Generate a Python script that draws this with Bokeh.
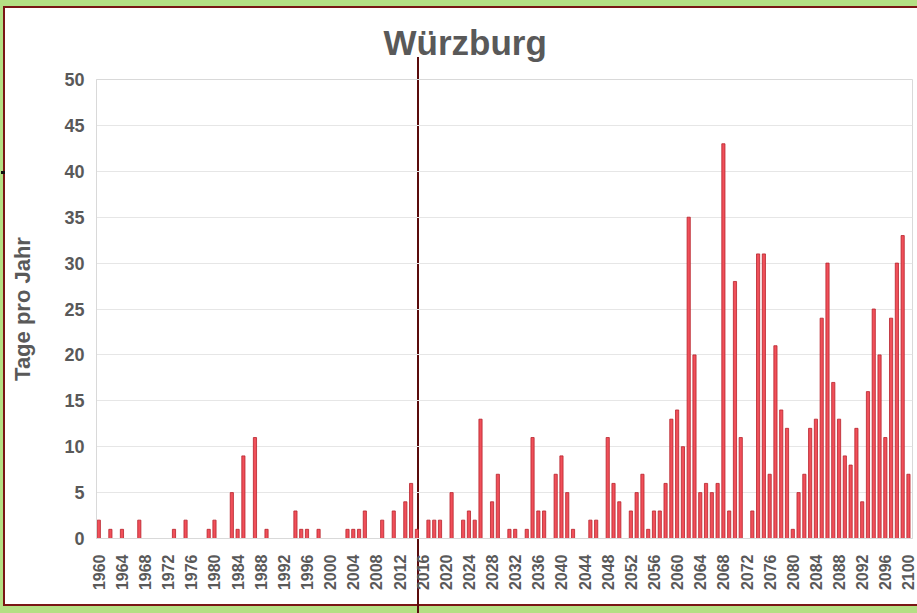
from bokeh.plotting import figure
from bokeh.models import FixedTicker, Range1d
from bokeh.embed import file_html
from bokeh.resources import INLINE
import math

# ---- data ----
years = [1960, 1962, 1964, 1967, 1973, 1975, 1979, 1980, 1983, 1984, 1985, 1987, 1989,
         1994, 1995, 1996, 1998, 2003, 2004, 2005, 2006, 2009, 2011, 2013, 2014, 2015,
         2017, 2018, 2019, 2021, 2023, 2024, 2025, 2026, 2028, 2029, 2031, 2032, 2034,
         2035, 2036, 2037, 2039, 2040, 2041, 2042, 2045, 2046, 2048, 2049, 2050, 2052,
         2053, 2054, 2055, 2056, 2057, 2058, 2059, 2060, 2061, 2062, 2063, 2064, 2065,
         2066, 2067, 2068, 2069, 2070, 2071, 2073, 2074, 2075, 2076, 2077, 2078, 2079,
         2080, 2081, 2082, 2083, 2084, 2085, 2086, 2087, 2088, 2089, 2090, 2091, 2092,
         2093, 2094, 2095, 2096, 2097, 2098, 2099, 2100]
days = [2, 1, 1, 2, 1, 2, 1, 2, 5, 1, 9, 11, 1,
        3, 1, 1, 1, 1, 1, 1, 3, 2, 3, 4, 6, 1,
        2, 2, 2, 5, 2, 3, 2, 13, 4, 7, 1, 1, 1,
        11, 3, 3, 7, 9, 5, 1, 2, 2, 11, 6, 4, 3,
        5, 7, 1, 3, 3, 6, 13, 14, 10, 35, 20, 5, 6,
        5, 6, 43, 3, 28, 11, 3, 31, 31, 7, 21, 14, 12,
        1, 5, 7, 12, 13, 24, 30, 17, 13, 9, 8, 12, 4,
        16, 25, 20, 11, 24, 30, 33, 7]
x_ticks = list(range(1960, 2101, 4))
y_ticks = list(range(0, 51, 5))
title_text = "Würzburg"
y_label = "Tage pro Jahr"

W, H = 917, 613
p = figure(width=W, height=H, output_backend="svg", toolbar_location=None,
           x_range=Range1d(1959.6, 2100.7), y_range=Range1d(0, 50),
           min_border_left=96, min_border_right=5, min_border_top=79, min_border_bottom=75)

# page decoration (green surround, maroon frame, vertical marker line) via CSS background
green = "#b4df84"
maroon = "#7a1515"
marker = "#5a0c0c"
p.styles = {
    "background": (
        f"linear-gradient({marker},{marker}) 417px 57px / 2px 556px no-repeat, "
        f"linear-gradient(#111111,#111111) 1px 171px / 4px 3px no-repeat, "
        f"linear-gradient(#ffffff,#ffffff) 5px 8px / 912px 596px no-repeat, "
        f"linear-gradient({maroon},{maroon}) 3px 6px / 914px 600px no-repeat, "
        f"{green}"
    )
}
p.border_fill_alpha = 0
p.background_fill_alpha = 0

p.title.text = title_text
p.title.text_font = "Liberation Sans"
p.title.text_font_size = "35px"
p.title.text_font_style = "bold"
p.title.text_color = "#595959"
p.title.align = "left"
p.title.offset = 287
p.title.standoff = 35

p.outline_line_color = "#d9d9d9"

p.vbar(x=years, top=days, width=0.55, bottom=0,
       fill_color="#f0505a", line_color="#b8222b", line_width=0.8)

p.xgrid.grid_line_color = None
p.ygrid.grid_line_color = "#e6e6e6"
p.ygrid.ticker = FixedTicker(ticks=y_ticks)

xa = p.xaxis[0]
xa.ticker = FixedTicker(ticks=x_ticks)
xa.major_label_orientation = math.pi / 2
xa.major_label_text_font = "Liberation Sans"
xa.major_label_text_font_size = "16px"
xa.major_label_text_font_style = "bold"
xa.major_label_text_color = "#595959"
xa.major_tick_line_color = None
xa.minor_tick_line_color = None
xa.axis_line_color = "#d9d9d9"
xa.major_label_standoff = 10

ya = p.yaxis[0]
ya.ticker = FixedTicker(ticks=y_ticks)
ya.major_label_text_font = "Liberation Sans"
ya.major_label_text_font_size = "18px"
ya.major_label_text_font_style = "bold"
ya.major_label_text_color = "#595959"
ya.major_tick_line_color = None
ya.minor_tick_line_color = None
ya.axis_line_color = "#d9d9d9"
ya.major_label_standoff = 6
ya.axis_label = y_label
ya.axis_label_text_font = "Liberation Sans"
ya.axis_label_text_font_size = "22px"
ya.axis_label_text_font_style = "bold"
ya.axis_label_text_color = "#595959"
ya.axis_label_standoff = 26

open("out.html", "w").write(file_html(p, INLINE))
